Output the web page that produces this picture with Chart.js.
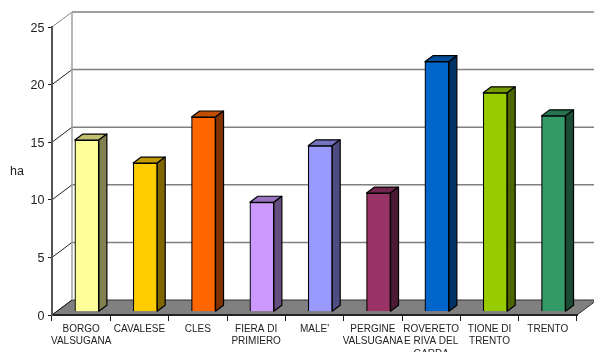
<!DOCTYPE html>
<html>
<head>
<meta charset="utf-8">
<title>ha</title>
<script src="https://cdn.jsdelivr.net/npm/chart.js@4"></script>
<style>
  html, body { margin: 0; padding: 0; background: #fff; overflow: hidden; }
  canvas { display: block; }
</style>
</head>
<body>
<canvas id="chart" width="594" height="352"></canvas>
<script>
const categories = [
    ['BORGO', 'VALSUGANA'], 'CAVALESE', 'CLES', ['FIERA DI', 'PRIMIERO'], "MALE'",
    ['PERGINE', 'VALSUGANA'], ['ROVERETO', 'E RIVA DEL', 'GARDA'], ['TIONE DI', 'TRENTO'], 'TRENTO'
];
const values = [14.9, 12.9, 16.9, 9.5, 14.4, 10.3, 21.7, 19.0, 17.0];
const frontColors = ['#ffff99', '#ffcc00', '#ff6600', '#cc99ff', '#9999ff', '#993366', '#0066cc', '#99cc00', '#339966'];
const topColors = ['#c0c070', '#c09a00', '#c04d00', '#9a73c0', '#7373c0', '#73264d', '#004d9a', '#739a00', '#267350'];
const sideColors = ['#808050', '#806600', '#803300', '#664d80', '#4d4d80', '#4d1a33', '#003366', '#4d6600', '#1a4d33'];
const yUnit = 'ha';

// depth of the fake 3D box
const wallDx = 20, wallDy = -15;
const barDx = 8, barDy = -6;
const barShiftX = 5.7, barShiftY = -3.3;

const box3d = {
    id: 'box3d',
    beforeDraw(chart) {
        const c = chart.ctx, a = chart.chartArea, y = chart.scales.y;
        c.save();
        // floor
        c.fillStyle = '#808080';
        c.beginPath();
        c.moveTo(a.left, a.bottom);
        c.lineTo(a.left + wallDx, a.bottom + wallDy);
        c.lineTo(a.right + wallDx, a.bottom + wallDy);
        c.lineTo(a.right, a.bottom);
        c.closePath();
        c.fill();
        c.strokeStyle = '#333';
        c.lineWidth = 1;
        c.stroke();
        // back wall lines
        y.ticks.forEach(function(t) {
            const py = y.getPixelForValue(t.value);
            c.strokeStyle = t.value === 25 ? '#808080' : '#222';
            c.lineWidth = 1;
            c.beginPath();
            c.moveTo(a.left, py);
            c.lineTo(a.left + wallDx, py + wallDy);
            c.stroke();
            if (t.value > 0) {
                c.strokeStyle = '#808080';
                c.lineWidth = 1.5;
                c.beginPath();
                c.moveTo(a.left + wallDx, py + wallDy);
                c.lineTo(a.right + wallDx, py + wallDy);
                c.stroke();
            }
        });
        c.strokeStyle = '#a0a0a0';
        c.lineWidth = 1.5;
        c.beginPath();
        c.moveTo(a.left + wallDx, a.top + wallDy);
        c.lineTo(a.left + wallDx, a.bottom + wallDy);
        c.stroke();
        // y labels are drawn here, the built-in ones sit about 1.5px too high
        c.fillStyle = '#222';
        c.font = '12.5px "Liberation Sans"';
        c.textBaseline = 'middle';
        c.textAlign = 'right';
        y.ticks.forEach(function(t) {
            c.fillText(String(t.value), 44.5, y.getPixelForValue(t.value) + 1.2);
        });
        c.textAlign = 'left';
        c.fillText(yUnit, 10, 172);
        c.restore();
    },
    beforeDatasetsDraw(chart) {
        const c = chart.ctx;
        c.save();
        c.translate(barShiftX, barShiftY);
        c.lineWidth = 1.2;
        c.strokeStyle = '#000';
        c.lineJoin = 'round';
        chart.getDatasetMeta(0).data.forEach(function(bar, i) {
            const l = bar.x - bar.width / 2, r = bar.x + bar.width / 2;
            c.fillStyle = topColors[i];
            c.beginPath();
            c.moveTo(l, bar.y);
            c.lineTo(l + barDx, bar.y + barDy);
            c.lineTo(r + barDx, bar.y + barDy);
            c.lineTo(r, bar.y);
            c.closePath();
            c.fill();
            c.stroke();
            c.fillStyle = sideColors[i];
            c.beginPath();
            c.moveTo(r, bar.y);
            c.lineTo(r + barDx, bar.y + barDy);
            c.lineTo(r + barDx, bar.base + barDy);
            c.lineTo(r, bar.base);
            c.closePath();
            c.fill();
            c.stroke();
        });
    },
    afterDatasetsDraw(chart) {
        chart.ctx.restore();
    }
};

new Chart(document.getElementById('chart'), {
    type: 'bar',
    data: {
        labels: categories,
        datasets: [{
            data: values,
            backgroundColor: frontColors,
            borderColor: '#000',
            borderWidth: 1.2,
            barThickness: 24
        }]
    },
    options: {
        responsive: false,
        animation: false,
        layout: { padding: { top: 27, right: 17, left: 0, bottom: 0 } },
        plugins: { legend: { display: false }, tooltip: { enabled: false } },
        scales: {
            x: {
                afterFit(scale) { scale.height = 37; },
                border: { color: '#222', width: 2 },
                grid: { drawOnChartArea: false, tickLength: 6, color: '#222', tickWidth: 1 },
                ticks: {
                    autoSkip: false,
                    maxRotation: 0,
                    minRotation: 0,
                    padding: 2,
                    color: '#222',
                    font: { family: '"Liberation Sans"', size: 10, lineHeight: 1.23 }
                }
            },
            y: {
                min: 0,
                max: 25,
                afterFit(scale) { scale.width = 52; },
                border: { color: '#555', width: 2 },
                grid: { drawOnChartArea: false, tickLength: 4, color: '#222', tickWidth: 1 },
                ticks: {
                    stepSize: 5,
                    color: 'rgba(0,0,0,0)',
                    font: { family: '"Liberation Sans"', size: 12.5 }
                }
            }
        }
    },
    plugins: [box3d]
});
</script>
</body>
</html>
